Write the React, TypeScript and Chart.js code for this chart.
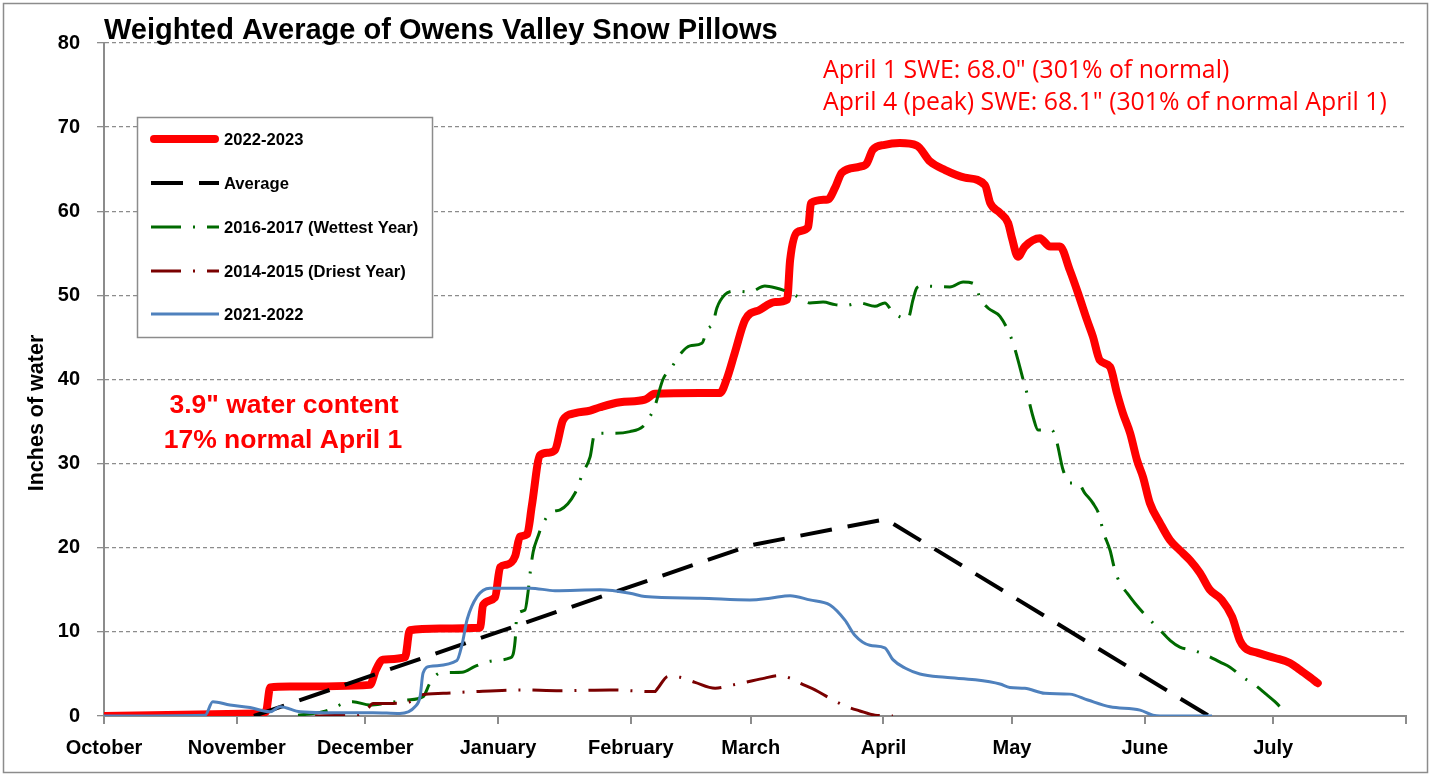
import { useEffect, useRef } from "react";
import { Chart, registerables } from "chart.js";

Chart.register(...registerables);

// ---- Axis / labels ----
const TITLE = "Weighted Average of Owens Valley Snow Pillows";
const Y_TITLE = "Inches of water";
const monthLabels = ["October", "November", "December", "January", "February", "March", "April", "May", "June", "July"];
// day index (0 = Oct 1) of each month start, last = Aug 1
const monthStartDays = [0, 31, 61, 92, 123, 151, 182, 212, 243, 273, 304];
const yTicks = [0, 10, 20, 30, 40, 50, 60, 70, 80];

const legendLabels = ["2022-2023", "Average", "2016-2017 (Wettest Year)", "2014-2015 (Driest Year)", "2021-2022"];
const noteTopLines = ['April 1 SWE: 68.0" (301% of normal)', 'April 4 (peak) SWE: 68.1" (301% of normal April 1)'];
const noteLeftLines = ['3.9" water content', "17% normal April 1"];

// ---- Series (day index since Oct 1, inches of SWE) ----
const days2023 = [0, 35.7, 37.8, 38.8, 43.4, 62.1, 63.5, 65.1, 70.3, 71.4, 78.4, 87.8, 88.5, 91.3, 92.5, 94.1, 96, 97.1, 98.8, 99.9, 101.8, 103.7, 105.3, 107.2, 110, 113.5, 115.8, 120.5, 126.3, 128.6, 139.2, 143.8, 145.5, 147.3, 149.7, 153.2, 156.7, 159.5, 160.2, 161.8, 164.4, 165.1, 169, 170.7, 172.3, 176.5, 178.1, 179.5, 182.3, 185.8, 189.8, 192.9, 196.4, 201, 205.7, 206.9, 209.2, 211.1, 212, 213.4, 215, 218.5, 220.9, 223.2, 225.5, 227.4, 229.5, 230.9, 232.5, 234.9, 236.5, 237.9, 239.6, 241.2, 242.6, 244.2, 246.6, 248.9, 251.2, 253.6, 255.9, 258.2, 261, 263.4, 265.2, 266.4, 269.4, 273.4, 276.9, 279.2, 281.6, 283.4];
const swe2023 = [0, 0.3, 0.5, 3.4, 3.5, 3.7, 5.5, 6.7, 7.0, 10.2, 10.4, 10.5, 13.2, 14.1, 17.7, 18.0, 19.0, 21.3, 21.6, 25, 31.0, 31.3, 31.6, 35.2, 36.0, 36.3, 36.7, 37.3, 37.6, 38.3, 38.4, 38.4, 40.2, 43.2, 47.1, 48.3, 49.2, 49.5, 54.2, 57.5, 58.1, 61, 61.4, 62.8, 64.6, 65.3, 65.7, 67.3, 67.9, 68.1, 67.8, 65.9, 64.9, 64, 63.1, 61, 59.8, 58.6, 56.8, 54.6, 55.8, 56.8, 55.8, 55.8, 53, 50.3, 47.1, 45.1, 42.3, 41.5, 38.4, 36, 33.6, 30.4, 28.4, 25.3, 22.9, 20.9, 19.7, 18.5, 17, 15, 13.8, 11.8, 9, 8.1, 7.5, 6.9, 6.3, 5.5, 4.6, 3.9];

const daysAvg = [35, 151, 182.5, 258];
const sweAvg = [0, 20.3, 23.4, 0];

const days2017 = [45.3, 51.1, 58.1, 62.1, 65.6, 70.7, 74.5, 76.1, 78.4, 83.6, 86.6, 90.1, 94.8, 95.5, 96, 96.4, 98.3, 99, 99.5, 100.2, 101.3, 102.5, 104.8, 106.5, 110, 111.8, 113.5, 114.6, 119.3, 122.8, 125.8, 127.5, 128.6, 130.5, 132.6, 134.5, 136.8, 139.6, 140.8, 142.2, 143.1, 145, 147.3, 150.8, 154.3, 156.7, 160.2, 162.5, 164.8, 167.9, 170.7, 173, 176.5, 180, 182.3, 184.2, 187.7, 188.9, 189.8, 191, 197.5, 200.6, 203.4, 204.5, 206.4, 209.2, 212, 213.2, 214.6, 215.7, 216.9, 218.1, 221.3, 222.5, 223.9, 225.5, 227.4, 229, 230.9, 232.5, 233.2, 234.9, 236, 237.2, 238.9, 240.7, 243.5, 246.6, 248.9, 251.2, 254.3, 257.1, 260.6, 262.9, 265.9, 268.7, 271.1, 273.4, 275.7];
const swe2017 = [0.1, 0.5, 1.7, 1.3, 1.5, 1.9, 2.3, 3.9, 5.1, 5.2, 5.9, 6.5, 6.9, 7.3, 9, 12, 12.6, 14.7, 17, 19.5, 21.3, 22.9, 24.3, 24.5, 26.5, 28.9, 30.8, 33.6, 33.6, 33.8, 34.4, 35.6, 36.8, 40, 41.5, 43, 44, 44.3, 45.9, 46.7, 48.5, 50.1, 50.5, 50.4, 51.1, 50.9, 50.3, 49.7, 49.1, 49.2, 48.9, 48.8, 49.1, 48.7, 49.1, 48, 47.2, 49.5, 50.9, 51.1, 51, 51.6, 51.3, 49.7, 48.5, 47.5, 44.7, 42.7, 40, 38, 35.6, 34, 34, 32.5, 29.3, 27.7, 27.7, 26.5, 25.3, 23.7, 22.1, 19.7, 17.4, 15.8, 14.6, 13.4, 11.8, 10.2, 9, 8.2, 7.8, 7.3, 6.4, 5.8, 4.6, 3.7, 2.7, 1.7, 0.5];

const days2015 = [49.3, 55.8, 59.1, 61.6, 62.8, 67.5, 71.4, 73.8, 79.2, 86.2, 97.1, 106.5, 118.1, 128.6, 129.3, 131.7, 134.5, 138, 142.7, 146.9, 149.7, 154.3, 157.4, 160.2, 162.5, 166, 169.5, 173, 176.5, 180, 184.2];
const swe2015 = [0, 0.1, 0.1, 0.9, 1.5, 1.5, 1.7, 2.5, 2.7, 2.9, 3.1, 3.0, 3.1, 2.9, 3.3, 4.7, 4.6, 4.0, 3.3, 3.7, 4.0, 4.5, 4.8, 4.5, 3.9, 3.1, 2.1, 1.2, 0.6, 0.1, 0];

const days2022 = [0, 23.6, 25.4, 29.4, 34.1, 38.8, 41.1, 45.8, 51.1, 62.8, 69.1, 72.6, 73.8, 74.5, 76.1, 82.4, 83.6, 84.8, 87.1, 90.1, 99.5, 105.3, 115.8, 122.8, 126.3, 139.2, 150.8, 155.5, 160.2, 164.8, 169.5, 173, 175.3, 178.8, 182.3, 184.2, 187, 190.5, 196.4, 203.4, 209.2, 211.5, 215, 219.7, 225.5, 229.7, 234.9, 241.9, 244.9, 246.6, 258.7];
const swe2022 = [0, 0.1, 1.7, 1.3, 1.0, 0.5, 1.1, 0.5, 0.4, 0.4, 0.3, 1.1, 2.3, 5.1, 5.9, 6.6, 8.5, 11.5, 14.2, 15.2, 15.2, 14.9, 15, 14.6, 14.2, 14.0, 13.8, 14.0, 14.3, 13.8, 13.2, 11.4, 9.6, 8.4, 8.1, 6.7, 5.7, 5.0, 4.6, 4.3, 3.8, 3.4, 3.3, 2.7, 2.6, 1.9, 1.1, 0.7, 0.1, 0, 0];

const toPts = (xs: number[], ys: number[]) => xs.map((x, i) => ({ x, y: ys[i] }));

const FONT = '"Liberation Sans", Arial, sans-serif';

const styles = [
  { color: "#ff0000", width: 8, dash: [] as number[] },
  { color: "#000000", width: 4, dash: [32, 16] },
  { color: "#006a00", width: 3, dash: [30, 12, 2, 12] },
  { color: "#7a0000", width: 3, dash: [30, 12, 2, 12] },
  { color: "#4f81bd", width: 3, dash: [] as number[] },
];

const overlayPlugin = {
  id: "overlay",
  beforeDraw(chart: any) {
    const ctx = chart.ctx;
    ctx.save();
    ctx.fillStyle = "#ffffff";
    ctx.fillRect(0, 0, chart.width, chart.height);
    ctx.restore();
  },
  afterDraw(chart: any) {
    const ctx: CanvasRenderingContext2D = chart.ctx;
    ctx.save();
    // outer frame
    ctx.strokeStyle = "#8c8c8c";
    ctx.lineWidth = 1.5;
    ctx.setLineDash([]);
    ctx.strokeRect(3.5, 3.5, 1424, 769);

    // title
    ctx.fillStyle = "#000";
    ctx.font = `bold 29px ${FONT}`;
    ctx.textAlign = "left";
    ctx.textBaseline = "alphabetic";
    ctx.fillText(TITLE, 104, 39);

    // y axis title
    ctx.save();
    ctx.translate(37, 413);
    ctx.rotate(-Math.PI / 2);
    ctx.font = `bold 21.5px ${FONT}`;
    ctx.textAlign = "center";
    ctx.textBaseline = "middle";
    ctx.fillText(Y_TITLE, 0, 0);
    ctx.restore();

    // annotations
    ctx.fillStyle = "#ff0000";
    ctx.font = `24.8px "Open Sans", ${FONT}`;
    ctx.textAlign = "left";
    ctx.textBaseline = "alphabetic";
    ctx.fillText(noteTopLines[0], 823, 78);
    ctx.fillText(noteTopLines[1], 823, 110);
    ctx.font = `bold 26.5px ${FONT}`;
    ctx.textAlign = "center";
    ctx.fillText(noteLeftLines[0], 284, 413);
    ctx.fillText(noteLeftLines[1], 283, 448);

    // legend
    const bx = 137, by = 117, bw = 295, bh = 220;
    ctx.fillStyle = "#ffffff";
    ctx.fillRect(bx, by, bw, bh);
    ctx.strokeStyle = "#8c8c8c";
    ctx.lineWidth = 1.5;
    ctx.strokeRect(bx + 0.5, by + 0.5, bw, bh);
    const rows = [139, 183, 227, 271, 314];
    legendLabels.forEach((lab, i) => {
      const st = styles[i];
      const y = rows[i];
      ctx.beginPath();
      ctx.strokeStyle = st.color;
      ctx.lineWidth = st.width;
      ctx.lineCap = i === 0 ? "round" : "butt";
      ctx.setLineDash(st.dash);
      ctx.moveTo(i === 0 ? 154 : 151, y);
      ctx.lineTo(i === 0 ? 215 : 219, y);
      ctx.stroke();
      ctx.setLineDash([]);
      ctx.fillStyle = "#000";
      ctx.font = `bold 16.6px ${FONT}`;
      ctx.textAlign = "left";
      ctx.textBaseline = "middle";
      ctx.fillText(lab, 224, y + 1);
    });
    ctx.restore();
  },
};

export default function App() {
  const ref = useRef<HTMLCanvasElement | null>(null);

  useEffect(() => {
    document.body.style.margin = "0";
    const canvas = ref.current;
    if (!canvas) return;
    const series = [
      toPts(days2023, swe2023),
      toPts(daysAvg, sweAvg),
      toPts(days2017, swe2017),
      toPts(days2015, swe2015),
      toPts(days2022, swe2022),
    ];
    const orders = [5, 4, 3, 2, 1];
    const chart = new Chart(canvas, {
      type: "line",
      data: {
        datasets: series.map((data, i) => ({
          label: legendLabels[i],
          data,
          borderColor: styles[i].color,
          backgroundColor: styles[i].color,
          borderWidth: styles[i].width,
          borderDash: styles[i].dash,
          borderCapStyle: i === 0 ? "round" : "butt",
          borderJoinStyle: "round",
          pointRadius: 0,
          fill: false,
          tension: 0,
          cubicInterpolationMode: i === 1 ? "default" : "monotone",
          order: orders[i],
        })) as any,
      },
      options: {
        animation: false,
        responsive: false,
        events: [],
        layout: { padding: { left: 0, top: 43, right: 26, bottom: 0 } },
        plugins: {
          legend: { display: false },
          title: { display: false },
          tooltip: { enabled: false },
        },
        scales: {
          x: {
            type: "linear",
            min: 0,
            max: 304,
            afterBuildTicks: (s: any) => {
              s.ticks = monthStartDays.map((v) => ({ value: v }));
            },
            afterFit: (s: any) => {
              s.height = 60;
            },
            ticks: {
              autoSkip: false,
              maxRotation: 0,
              minRotation: 0,
              padding: 12,
              color: "#000",
              font: { family: FONT, size: 20, weight: "bold" },
              callback: (_v: any, i: number) => monthLabels[i] ?? "",
            },
            grid: {
              drawOnChartArea: false,
              drawTicks: true,
              tickLength: 8,
              color: "#8c8c8c",
              lineWidth: 2,
            },
            border: { color: "#8c8c8c", width: 2 },
          },
          y: {
            min: 0,
            max: 80,
            afterBuildTicks: (s: any) => {
              s.ticks = yTicks.map((v) => ({ value: v }));
            },
            afterFit: (s: any) => {
              s.width = 104;
            },
            ticks: {
              padding: 17,
              color: "#000",
              font: { family: FONT, size: 20, weight: "bold" },
            },
            grid: {
              color: "#8c8c8c",
              lineWidth: 1.3,
              drawTicks: true,
              tickLength: 7,
            },
            border: { color: "#8c8c8c", width: 2, dash: [4, 3] },
          },
        },
      },
      plugins: [overlayPlugin],
    });
    return () => chart.destroy();
  }, []);

  return (
    <div style={{ width: 1432, height: 776, position: "relative", background: "#fff" }}>
      <canvas ref={ref} width={1432} height={776} style={{ display: "block" }} />
    </div>
  );
}
